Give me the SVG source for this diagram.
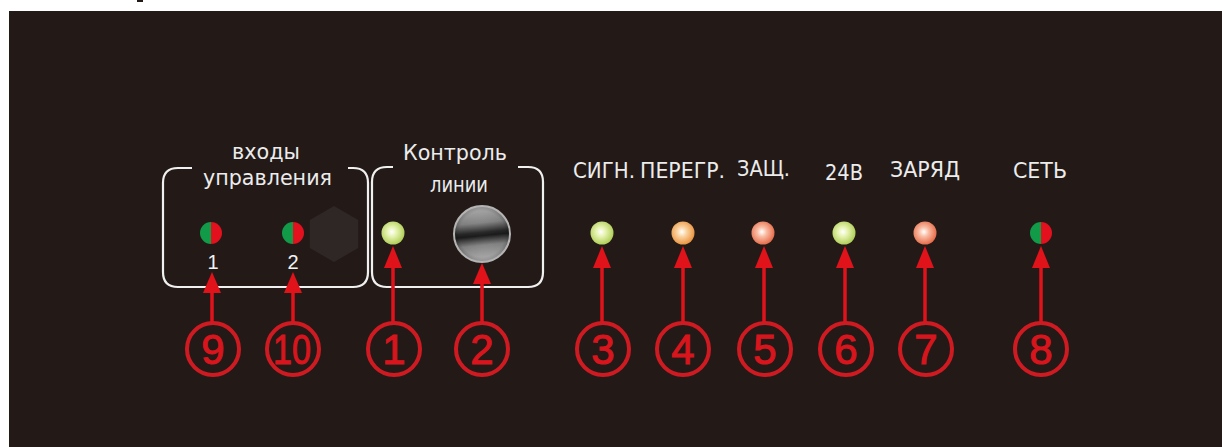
<svg xmlns="http://www.w3.org/2000/svg" width="1222" height="447" viewBox="0 0 1222 447">
<style>
.lbl{font-family:"DejaVu Sans Condensed","DejaVu Sans",sans-serif;font-size:21px;fill:#ececec;text-anchor:middle}
.sm{font-family:"Liberation Sans",Arial,sans-serif;font-size:20px;fill:#f2f2f2;text-anchor:middle}
.num{font-family:"Liberation Sans",Arial,sans-serif;font-size:42px;fill:#d8151d;stroke:#d8151d;stroke-width:1;text-anchor:middle}
.ring{fill:none;stroke:#d01a22;stroke-width:4}
.box{fill:none;stroke:#f0f0f0;stroke-width:2.2}
.stem{stroke:#e0121a;stroke-width:3.5}
.head{fill:#e0121a}
</style>
<defs>
<radialGradient id="gGreen" cx="0.45" cy="0.45" r="0.6">
<stop offset="0" stop-color="#ffffff"/><stop offset="0.35" stop-color="#e6f3b0"/><stop offset="1" stop-color="#a8c94c"/>
</radialGradient>
<radialGradient id="gOrange" cx="0.45" cy="0.45" r="0.6">
<stop offset="0" stop-color="#ffffff"/><stop offset="0.35" stop-color="#fad3a0"/><stop offset="1" stop-color="#e98c35"/>
</radialGradient>
<radialGradient id="gRed" cx="0.45" cy="0.45" r="0.6">
<stop offset="0" stop-color="#ffffff"/><stop offset="0.35" stop-color="#f9bca3"/><stop offset="1" stop-color="#e4623f"/>
</radialGradient>
<linearGradient id="gKnob" x1="0.45" y1="0" x2="0.55" y2="1">
<stop offset="0" stop-color="#c4c4c4"/><stop offset="0.3" stop-color="#8c8c8c"/><stop offset="0.47" stop-color="#2a2a2a"/><stop offset="0.53" stop-color="#1c1c1c"/><stop offset="0.7" stop-color="#8c8c8c"/><stop offset="1" stop-color="#c8c8c8"/>
</linearGradient>
<radialGradient id="gKnobC" cx="0.5" cy="0.5" r="0.5">
<stop offset="0" stop-color="#000" stop-opacity="0"/><stop offset="0.85" stop-color="#000" stop-opacity="0.1"/><stop offset="1" stop-color="#000" stop-opacity="0.25"/>
</radialGradient>
<g id="bicolor">
<path d="M0,-11 A11,11 0 0 0 0,11 Z" fill="#119a48"/>
<path d="M0,-11 A11,11 0 0 1 0,11 Z" fill="#e3101e"/>
</g>
</defs>
<rect width="1222" height="447" fill="#ffffff"/>
<rect x="137" y="0" width="6" height="2" fill="#231a18"/>
<rect id="panel" x="9" y="11" width="1213" height="436" fill="#231a18"/>

<g id="group-inputs">
<path class="box" d="M192,168 H178 Q163,168 163,183 V272 Q163,287 178,287 H353 Q368,287 368,272 V183 Q368,168 353,168 H348"/>
<text class="lbl" x="266" y="159" textLength="68" lengthAdjust="spacingAndGlyphs">входы</text>
<text class="lbl" x="267.5" y="185" textLength="129" lengthAdjust="spacingAndGlyphs">управления</text>
<polygon points="334,206 358.2,220 358.2,248 334,262 309.8,248 309.8,220" fill="#2f2725"/>
</g>
<g id="led-in1"><use href="#bicolor" x="211" y="233"/><text class="sm" x="213" y="269">1</text></g>
<g id="led-in2"><use href="#bicolor" x="293" y="233"/><text class="sm" x="293" y="269">2</text></g>

<g id="group-line">
<path class="box" d="M393,167 H387 Q372,167 372,182 V272 Q372,287 387,287 H528 Q543,287 543,272 V182 Q543,167 528,167 H518"/>
<text class="lbl" x="455" y="160" textLength="104" lengthAdjust="spacingAndGlyphs">Контроль</text>
<text class="lbl" x="459" y="192" textLength="58" lengthAdjust="spacingAndGlyphs">линии</text>
</g>
<g id="led-line"><circle cx="393" cy="233" r="11.5" fill="url(#gGreen)"/></g>
<g id="knob">
<circle cx="482" cy="234" r="28" fill="url(#gKnob)" stroke="#b4b4b4" stroke-width="2"/>
<circle cx="482" cy="234" r="27" fill="url(#gKnobC)"/>
</g>

<g id="ind-sign"><text class="lbl" x="604" y="178" textLength="62" lengthAdjust="spacingAndGlyphs">СИГН.</text><circle cx="602" cy="233" r="11.5" fill="url(#gGreen)"/></g>
<g id="ind-overload"><text class="lbl" x="682.5" y="178" textLength="85" lengthAdjust="spacingAndGlyphs">ПЕРЕГР.</text><circle cx="683" cy="233" r="11.5" fill="url(#gOrange)"/></g>
<g id="ind-prot"><text class="lbl" x="763.5" y="176" textLength="53" lengthAdjust="spacingAndGlyphs">ЗАЩ.</text><circle cx="763" cy="233" r="11.5" fill="url(#gRed)"/></g>
<g id="ind-24v"><text class="lbl" x="844" y="180" textLength="38" lengthAdjust="spacingAndGlyphs">24В</text><circle cx="844" cy="233" r="11.5" fill="url(#gGreen)"/></g>
<g id="ind-charge"><text class="lbl" x="925" y="177" textLength="70" lengthAdjust="spacingAndGlyphs">ЗАРЯД</text><circle cx="925" cy="233" r="11.5" fill="url(#gRed)"/></g>
<g id="ind-net"><text class="lbl" x="1040" y="178" textLength="54" lengthAdjust="spacingAndGlyphs">СЕТЬ</text><use href="#bicolor" x="1041" y="233"/></g>

<g id="connectors">
<line class="stem" x1="212" y1="288" x2="212" y2="323"/><polygon class="head" points="212,272 203,293 221,293"/>
<line class="stem" x1="293" y1="288" x2="293" y2="323"/><polygon class="head" points="293,272 284,293 302,293"/>
<line class="stem" x1="393" y1="264" x2="393" y2="323"/><polygon class="head" points="393,246 384,268 402,268"/>
<line class="stem" x1="482" y1="280" x2="482" y2="323"/><polygon class="head" points="482,263 473,284 491,284"/>
<line class="stem" x1="602" y1="264" x2="602" y2="323"/><polygon class="head" points="602,246 593,268 611,268"/>
<line class="stem" x1="683" y1="264" x2="683" y2="323"/><polygon class="head" points="683,246 674,268 692,268"/>
<line class="stem" x1="764" y1="264" x2="764" y2="323"/><polygon class="head" points="764,246 755,268 773,268"/>
<line class="stem" x1="845" y1="264" x2="845" y2="323"/><polygon class="head" points="845,246 836,268 854,268"/>
<line class="stem" x1="925" y1="264" x2="925" y2="323"/><polygon class="head" points="925,246 916,268 934,268"/>
<line class="stem" x1="1041" y1="264" x2="1041" y2="323"/><polygon class="head" points="1041,246 1032,268 1050,268"/>
</g>

<g id="call-9"><circle class="ring" cx="213" cy="349" r="26"/><text class="num" x="213" y="364">9</text></g>
<g id="call-10"><circle class="ring" cx="293" cy="349" r="26"/><text class="num" x="292" y="364" textLength="38" lengthAdjust="spacingAndGlyphs">10</text></g>
<g id="call-1"><circle class="ring" cx="394" cy="349" r="26"/><text class="num" x="394" y="364">1</text></g>
<g id="call-2"><circle class="ring" cx="482" cy="349" r="26"/><text class="num" x="482" y="364">2</text></g>
<g id="call-3"><circle class="ring" cx="603" cy="349" r="26"/><text class="num" x="603" y="364">3</text></g>
<g id="call-4"><circle class="ring" cx="683" cy="349" r="26"/><text class="num" x="683" y="364">4</text></g>
<g id="call-5"><circle class="ring" cx="765" cy="349" r="26"/><text class="num" x="765" y="364">5</text></g>
<g id="call-6"><circle class="ring" cx="846" cy="349" r="26"/><text class="num" x="846" y="364">6</text></g>
<g id="call-7"><circle class="ring" cx="926" cy="349" r="26"/><text class="num" x="926" y="364">7</text></g>
<g id="call-8"><circle class="ring" cx="1041" cy="349" r="26"/><text class="num" x="1041" y="364">8</text></g>
</svg>
